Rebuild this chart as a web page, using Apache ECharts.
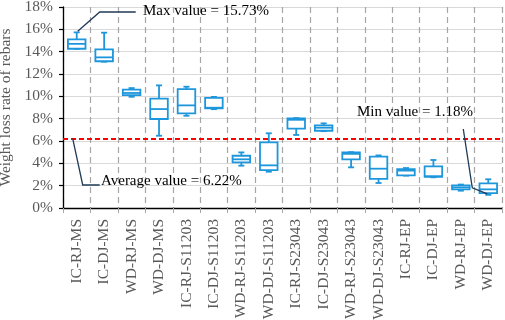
<!DOCTYPE html>
<html>
<head>
<meta charset="utf-8">
<script src="https://cdn.jsdelivr.net/npm/echarts@6/dist/echarts.min.js"></script>
<style>
  html, body { margin: 0; padding: 0; background: #fff; }
  #chart { width: 505px; height: 320px; }
</style>
</head>
<body>
<div id="chart"></div>
<script>
const categories = ['IC-RJ-MS', 'IC-DJ-MS', 'WD-RJ-MS', 'WD-DJ-MS',
  'IC-RJ-S11203', 'IC-DJ-S11203', 'WD-RJ-S11203', 'WD-DJ-S11203',
  'IC-RJ-S23043', 'IC-DJ-S23043', 'WD-RJ-S23043', 'WD-DJ-S23043',
  'IC-RJ-EP', 'IC-DJ-EP', 'WD-RJ-EP', 'WD-DJ-EP'];

// five number summary for each group (%)
const minVals    = [14.26, 13.1, 9.96, 6.47, 8.26, 8.85, 3.79, 3.25, 6.54, 6.88, 3.64, 2.24, 2.9, 2.75, 1.55, 1.18];
const q1Vals     = [14.26, 13.14, 10.1, 7.97, 8.48, 8.92, 4.09, 3.4, 7.1, 6.92, 4.36, 2.6, 2.93, 2.78, 1.67, 1.34];
const medianVals = [14.7, 13.49, 10.3, 8.86, 9.19, 8.98, 4.36, 3.82, 7.9, 7.19, 4.85, 3.52, 3.35, 2.85, 1.85, 1.67];
const q3Vals     = [15.1, 14.2, 10.6, 9.8, 10.65, 9.87, 4.68, 5.88, 8.03, 7.4, 4.98, 4.6, 3.49, 3.73, 2.03, 2.21];
const maxVals    = [15.73, 15.7, 10.74, 10.98, 10.86, 9.95, 4.98, 6.69, 8.05, 7.58, 5.0, 4.71, 3.58, 4.3, 2.1, 2.57];

const averageValue = 6.22;
const yTicks = { min: 0, max: 18, interval: 2 };

const boxColor = '#1e96dc';
const serif = 'Liberation Serif';

const chart = echarts.init(document.getElementById('chart'));

const boxData = categories.map((c, i) => [i, minVals[i], q1Vals[i], medianVals[i], q3Vals[i], maxVals[i]]);

function renderBox(params, api) {
  const idx = api.value(0);
  const pMin = api.coord([idx, api.value(1)]);
  const pQ1 = api.coord([idx, api.value(2)]);
  const pMed = api.coord([idx, api.value(3)]);
  const pQ3 = api.coord([idx, api.value(4)]);
  const pMax = api.coord([idx, api.value(5)]);
  const band = api.size([1, 0])[0];
  const half = band * 0.32;
  const cap = band * 0.11;
  const x = pMed[0];
  const st = { stroke: boxColor, lineWidth: 1.8, fill: null };
  return {
    type: 'group',
    children: [
      { type: 'line', shape: { x1: x, y1: pQ3[1], x2: x, y2: pMax[1] }, style: st },
      { type: 'line', shape: { x1: x, y1: pQ1[1], x2: x, y2: pMin[1] }, style: st },
      { type: 'line', shape: { x1: x - cap, y1: pMax[1], x2: x + cap, y2: pMax[1] }, style: st },
      { type: 'line', shape: { x1: x - cap, y1: pMin[1], x2: x + cap, y2: pMin[1] }, style: st },
      { type: 'rect', shape: { x: x - half, y: pQ3[1], width: half * 2, height: pQ1[1] - pQ3[1] },
        style: { stroke: boxColor, lineWidth: 1.8, fill: '#fff' } },
      { type: 'line', shape: { x1: x - half, y1: pMed[1], x2: x + half, y2: pMed[1] }, style: st }
    ]
  };
}

const option = {
  animation: false,
  grid: { left: 63, right: 3, top: 7, bottom: 112, outerBoundsMode: 'none' },
  xAxis: {
    type: 'category',
    data: categories,
    boundaryGap: true,
    axisLine: { lineStyle: { color: '#000', width: 1.3 } },
    axisTick: { show: true, length: 5, lineStyle: { color: '#a6a6a6' } },
    axisLabel: {
      rotate: 90, margin: 11, interval: 0,
      fontFamily: serif, fontSize: 15.5, color: '#595959'
    },
    splitLine: { show: true, lineStyle: { type: [6, 4], color: '#a6a6a6', width: 1.2 } }
  },
  yAxis: {
    type: 'value',
    min: yTicks.min, max: yTicks.max, interval: yTicks.interval,
    name: 'Weight loss rate of rebars',
    nameLocation: 'middle',
    nameGap: 48,
    nameTextStyle: { fontFamily: serif, fontSize: 15.5, color: '#595959' },
    axisLine: { show: true, lineStyle: { color: '#000', width: 1.3 } },
    axisTick: { show: true, length: 4, lineStyle: { color: '#000', width: 1.2 } },
    axisLabel: { formatter: '{value}%', margin: 10, fontFamily: serif, fontSize: 15.5, color: '#595959' },
    splitLine: { lineStyle: { color: '#d9d9d9', width: 1 } }
  },
  series: [
    {
      type: 'custom',
      renderItem: renderBox,
      encode: { x: 0, y: [1, 2, 3, 4, 5] },
      data: boxData,
      z: 3
    },
    {
      type: 'line',
      data: [],
      markLine: {
        silent: true,
        symbol: 'none',
        label: { show: false },
        lineStyle: { color: '#ff0000', type: [5, 3], width: 2 },
        data: [{ yAxis: averageValue }]
      },
      z: 4
    }
  ]
};

chart.setOption(option);

// annotations anchored to the data through the chart scales
const leader = { stroke: '#1f3b57', lineWidth: 1.3 };
const annoText = { fontFamily: serif, fontSize: 15, fill: '#000', verticalAlign: 'middle' };

const maxIdx = maxVals.indexOf(Math.max(...maxVals));
const minIdx = minVals.indexOf(Math.min(...minVals));
const pMax = chart.convertToPixel({ gridIndex: 0 }, [maxIdx, maxVals[maxIdx]]);
const pMin = chart.convertToPixel({ gridIndex: 0 }, [minIdx, minVals[minIdx]]);
const pAvg = chart.convertToPixel({ gridIndex: 0 }, [0, averageValue]);

chart.setOption({
  graphic: [
    { type: 'polyline', shape: { points: [[pMax[0] + 1, pMax[1] - 1], [pMax[0] + 23, 12], [pMax[0] + 59, 12]] }, style: Object.assign({ fill: null }, leader), z: 10 },
    { type: 'text', left: 143, top: 4, style: Object.assign({ text: 'Max value = ' + maxVals[maxIdx].toFixed(2) + '%' }, annoText), z: 10 },

    { type: 'polyline', shape: { points: [[pAvg[0] - 4, pAvg[1]], [pAvg[0] + 6, 185], [pAvg[0] + 23, 185]] }, style: Object.assign({ fill: null }, leader), z: 10 },
    { type: 'text', left: 101, top: 174, style: Object.assign({ text: 'Average value = ' + averageValue.toFixed(2) + '%' }, annoText), z: 10 },

    { type: 'polyline', shape: { points: [[pMin[0] - 1, pMin[1] - 1], [pMin[0] - 16, pMin[1] - 7], [pMin[0] - 25, 129]] }, style: Object.assign({ fill: null }, leader), z: 10 },
    { type: 'text', left: 357, top: 105, style: Object.assign({ text: 'Min value = ' + minVals[minIdx].toFixed(2) + '%' }, annoText), z: 10 }
  ]
});
</script>
</body>
</html>
